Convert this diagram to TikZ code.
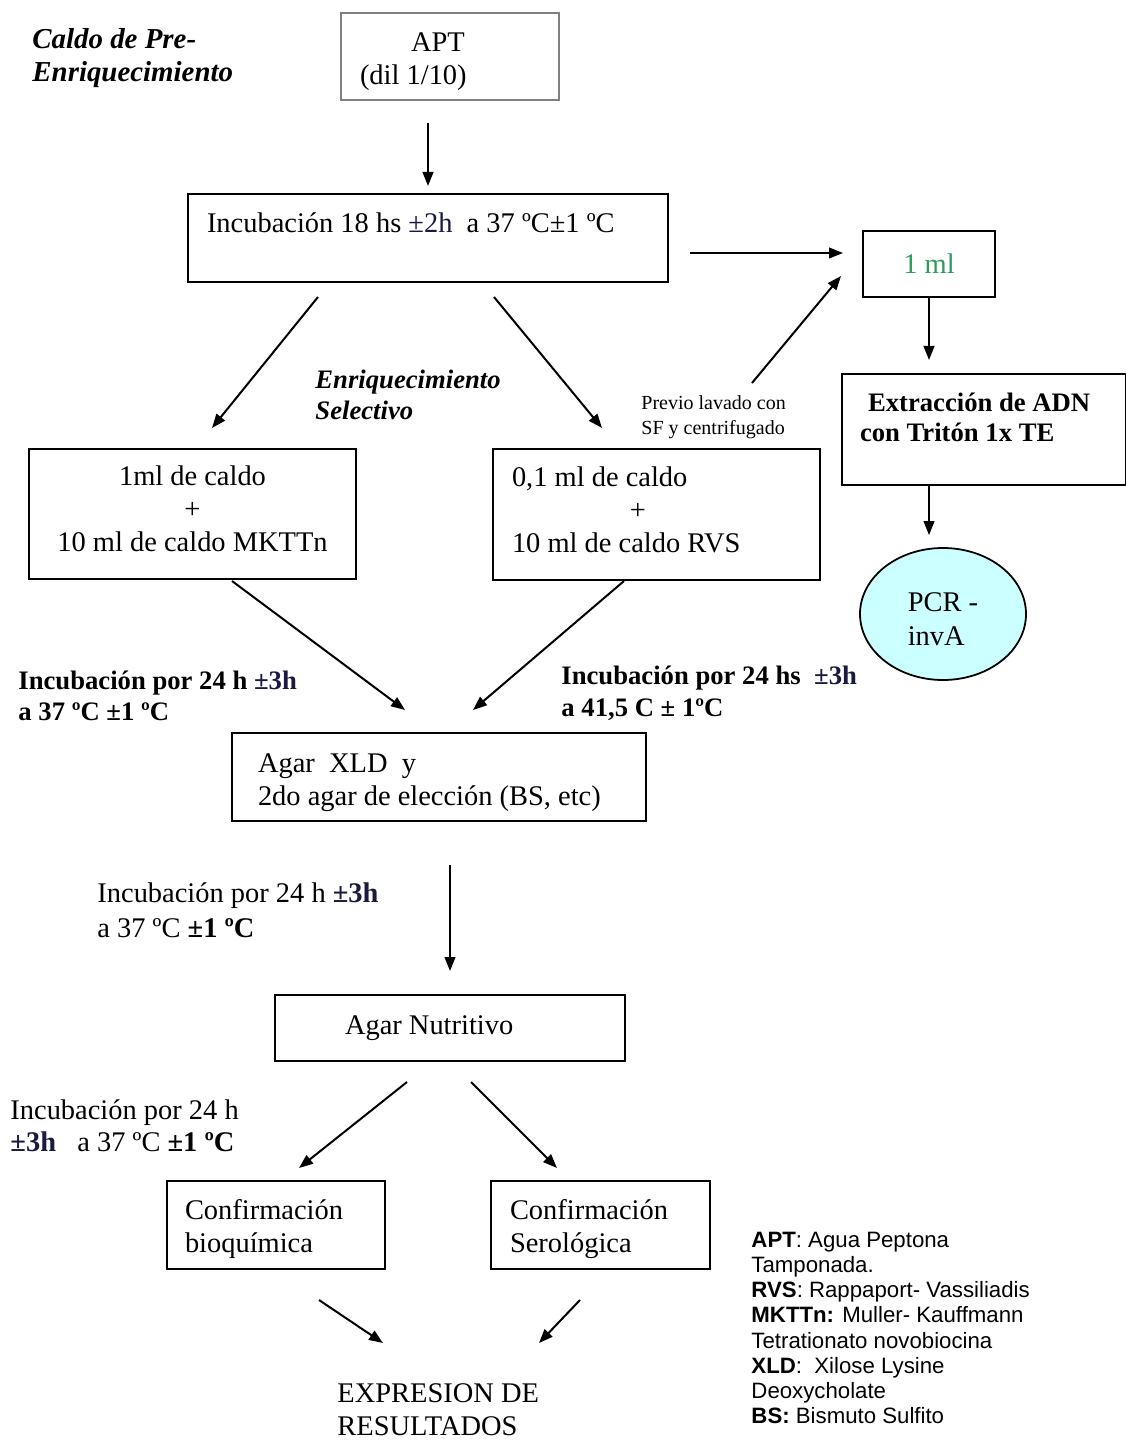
\documentclass[tikz,border=0pt]{standalone}
\usepackage{fontspec}
\setmainfont{Liberation Serif}
\newfontfamily\legendfont{Liberation Sans}
\usepackage{tikz}
\usetikzlibrary{shapes.geometric, arrows.meta}
\definecolor{pmnavy}{RGB}{26,26,64}
\definecolor{mlgreen}{RGB}{46,154,94}
\definecolor{pcrcyan}{RGB}{204,255,255}
\tikzstyle{object} = [rectangle, draw=black, line width=0.9pt, align=flush left, inner ysep=0pt, font=\fontsize{12.8}{14.85}\selectfont]
\tikzstyle{arrow} = [line width=0.9pt, -{Triangle[length=6.3pt, width=4.8pt]}]
\tikzstyle{note} = [inner sep=0pt, anchor=west, align=left, font=\fontsize{12.8}{14.85}\selectfont]

\begin{document}
\begin{tikzpicture}[x=0.45pt, y=-0.45pt]
            \useasboundingbox (0,0) rectangle (1126,1441);
            % boxes
            \node (apt) [object, draw=gray, text width=81pt, inner xsep=8.55pt, minimum height=39.15pt] at (450,56.5) {\rule{0pt}{13pt}\hspace*{23pt}APT\\(dil 1/10)};
            \node (incub) [object, text width=198.9pt, inner xsep=8.55pt, minimum height=39.6pt] at (428,238) {Incubación 18 hs {\color{pmnavy}±2h}\ \ a 37 ºC±1 ºC\\[-5.4pt]\strut};
            \node (ml) [object, align=center, minimum width=59.4pt, minimum height=29.7pt, text=mlgreen] at (929,264) {1 ml};
            \node (extr) [object, font=\fontsize{12}{13.5}\selectfont\bfseries, text width=111.6pt, inner xsep=8.1pt, minimum height=49.95pt] at (984,429.5) {\hspace*{3.6pt}Extracción de ADN\\con Tritón 1x TE\\[-6.3pt]\strut};
            \node (pcr) [ellipse, draw=black, line width=0.8pt, fill=pcrcyan, minimum width=74.7pt, minimum height=59.4pt, align=flush left, font=\fontsize{12.8}{15.3}\selectfont] at (943,614) {\rule{0pt}{13pt}PCR -\\invA};
            \node (mkttn) [object, align=center, minimum width=147.15pt, minimum height=58.5pt] at (192.5,514) {1ml de caldo\\+\\10 ml de caldo MKTTn\rule[-4.5pt]{0pt}{0pt}};
            \node (rvs) [object, text width=130.05pt, inner xsep=8.55pt, minimum height=58.95pt] at (656.5,514.5) {0,1 ml de caldo\\\hspace*{53pt}+\\10 ml de caldo RVS\rule[-4pt]{0pt}{0pt}};
            \node (xld) [object, text width=162.9pt, inner xsep=11.7pt, minimum height=39.6pt] at (439,777) {\rule{0pt}{13.2pt}Agar\ \ XLD\ \ y\\2do agar de elección (BS, etc)};
            \node (nutr) [object, text width=94.5pt, inner xsep=31.5pt, minimum height=29.7pt] at (450,1028) {Agar Nutritivo};
            \node (bioq) [object, text width=81.9pt, inner xsep=8.1pt, minimum height=39.6pt] at (276,1225) {\rule{0pt}{13pt}Confirmación\\bioquímica};
            \node (serol) [object, text width=81.45pt, inner xsep=8.55pt, minimum height=39.6pt] at (600.5,1225) {\rule{0pt}{13pt}Confirmación\\Serológica};
            % free texts
            \node (caldo) [note, font=\fontsize{13}{14.85}\selectfont\bfseries\itshape] at (32,58) {Caldo de Pre-\\Enriquecimiento};
            \node (selectivo) [note, font=\fontsize{12}{13.9}\selectfont\bfseries\itshape] at (315,395) {Enriquecimiento\\Selectivo};
            \node (previo) [note, font=\fontsize{9}{11.25}\selectfont] at (641,417) {Previo lavado con\\SF y centrifugado};
            \node (incmk) [note, font=\fontsize{12}{14}\selectfont\bfseries] at (18,696) {Incubación por 24 h {\color{pmnavy}±3h}\\a 37 ºC ±1 ºC};
            \node (incrvs) [note, font=\fontsize{12}{14.4}\selectfont\bfseries] at (561,693) {Incubación por 24 hs\ \ {\color{pmnavy}±3h}\\a 41,5 C ± 1ºC};
            \node (incxld) [note, font=\fontsize{12.8}{15.75}\selectfont] at (97,910) {Incubación por 24 h {\color{pmnavy}\bfseries ±3h}\\a 37 ºC {\bfseries ±1 ºC}};
            \node (incnut) [note, font=\fontsize{12.8}{14.4}\selectfont] at (10,1126) {Incubación por 24 h\\{\color{pmnavy}\bfseries ±3h}\ \ \ a 37 ºC {\bfseries ±1 ºC}};
            \node (expr) [note] at (337,1410) {EXPRESION DE\\RESULTADOS};
            \node (legend) [note, font=\legendfont\fontsize{10}{11.3}\selectfont] at (751,1328) {\textbf{APT}: Agua Peptona\\Tamponada.\\\textbf{RVS}: Rappaport- Vassiliadis\\\textbf{MKTTn:} Muller- Kauffmann\\Tetrationato novobiocina\\\textbf{XLD}:\ \ Xilose Lysine\\Deoxycholate\\\textbf{BS:} Bismuto Sulfito};
            % arrow ends
            \coordinate (ml-from) at (690,253);
            \coordinate (ml-to) at (843,253);
            \coordinate (pv-from) at (752,383);
            \coordinate (pv-to) at (841,276);
            \coordinate (mk-from) at (318,297);
            \coordinate (mk-to) at (212,428);
            \coordinate (rv-from) at (494,297);
            \coordinate (rv-to) at (602,428);
            \coordinate (xl-left-from) at (232,581);
            \coordinate (xl-left-to) at (405,710);
            \coordinate (xl-right-from) at (624,581);
            \coordinate (xl-right-to) at (473,710);
            \coordinate (bq-from) at (407,1082);
            \coordinate (bq-to) at (299,1168);
            \coordinate (sr-from) at (471,1082);
            \coordinate (sr-to) at (557,1168);
            \coordinate (ex-left-from) at (319,1300);
            \coordinate (ex-left-to) at (383,1343);
            \coordinate (ex-right-from) at (580,1300);
            \coordinate (ex-right-to) at (539,1343);
            % arrows
            \draw [arrow, shorten <=9.9pt, shorten >=3.15pt] (incub.north |- apt.south) -- (incub.north);
            \draw [arrow] (ml-from) -- (ml-to);
            \draw [arrow] (pv-from) -- (pv-to);
            \draw [arrow, shorten >=5.85pt] (ml.south) -- (ml.south |- extr.north);
            \draw [arrow, shorten >=5.4pt] (ml.south |- extr.south) -- (ml.south |- pcr.north);
            \draw [arrow] (mk-from) -- (mk-to);
            \draw [arrow] (rv-from) -- (rv-to);
            \draw [arrow] (xl-left-from) -- (xl-left-to);
            \draw [arrow] (xl-right-from) -- (xl-right-to);
            \draw [arrow, shorten <=19.35pt, shorten >=10.35pt] (xld.south -| nutr.north) -- (nutr.north);
            \draw [arrow] (bq-from) -- (bq-to);
            \draw [arrow] (sr-from) -- (sr-to);
            \draw [arrow] (ex-left-from) -- (ex-left-to);
            \draw [arrow] (ex-right-from) -- (ex-right-to);
\end{tikzpicture}
\end{document}
